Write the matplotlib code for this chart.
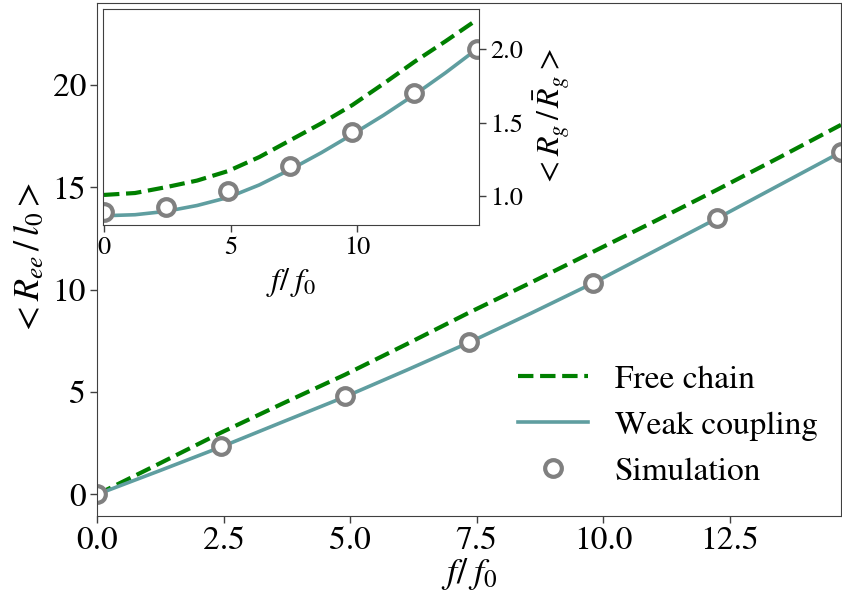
import matplotlib
matplotlib.use("Agg")
import matplotlib.pyplot as plt

plt.rcParams['font.family'] = ['STIXGeneral', 'Liberation Serif', 'DejaVu Serif']
plt.rcParams['mathtext.fontset'] = 'stix'

# Main panel data
f_sim = [0.0, 2.45, 4.9, 7.35, 9.8, 12.25, 14.7]
ree_sim = [0.0, 2.36, 4.80, 7.45, 10.34, 13.51, 16.73]

f_curve = [0.0, 1.225, 2.45, 3.675, 4.9, 6.125, 7.35, 8.575, 9.8, 11.025, 12.25, 13.475, 14.7]
ree_free = [0.0, 1.5, 3.02, 4.45, 5.85, 7.35, 8.88, 10.35, 11.85, 13.35, 14.88, 16.45, 18.05]
ree_weak = [0.0, 1.15, 2.32, 3.55, 4.77, 6.08, 7.42, 8.85, 10.32, 11.9, 13.48, 15.1, 16.72]

# Inset data
rg_sim = [0.893, 0.927, 1.034, 1.205, 1.434, 1.705, 2.005]
rg_free = [1.007, 1.02, 1.06, 1.105, 1.17, 1.265, 1.38, 1.495, 1.62, 1.765, 1.915, 2.055, 2.2]
rg_weak = [0.865, 0.872, 0.895, 0.935, 0.99, 1.075, 1.18, 1.295, 1.42, 1.55, 1.69, 1.84, 2.0]

spine_c = '0.25'
fig = plt.figure(figsize=(8.42, 6.03), dpi=100)
ax = fig.add_axes([0.1152, 0.1443, 0.8836, 0.8507])
ax.plot(f_curve, ree_free, '--', color='green', lw=3, label='Free chain')
ax.plot(f_curve, ree_weak, '-', color='cadetblue', lw=2.6, label='Weak coupling')
ax.plot(f_sim, ree_sim, 'o', mfc='white', mec='grey', mew=3, ms=12, label='Simulation', linestyle='none')
ax.set_xlim(0, 14.7)
ax.set_ylim(-1.05, 24.0)
ax.set_xticks([0.0, 2.5, 5.0, 7.5, 10.0, 12.5])
ax.set_xticklabels(['0.0', '2.5', '5.0', '7.5', '10.0', '12.5'])
ax.set_yticks([0, 5, 10, 15, 20])
ax.tick_params(labelsize=24, length=5, width=1, color=spine_c, pad=3)
for s in ax.spines.values():
    s.set_color(spine_c)
ax.set_xlabel(r'$f/\;f_0$', fontsize=26, labelpad=0)
ax.set_ylabel(r'$<R_{ee}\,/\,l_0>$', fontsize=26, labelpad=4)
leg = ax.legend(loc='lower left', frameon=False, fontsize=24,
                bbox_to_anchor=(505 / 842, (603 - 500) / 603), bbox_transform=fig.transFigure,
                borderaxespad=0, handlelength=2.1, labelspacing=0.47)

# Inset
ins = fig.add_axes([0.122, 0.6264, 0.447, 0.3582])
ins.plot(f_curve, rg_free, '--', color='green', lw=3)
ins.plot(f_curve, rg_weak, '-', color='cadetblue', lw=2.6)
ins.plot(f_sim, rg_sim, 'o', mfc='white', mec='grey', mew=3, ms=12, linestyle='none')
ins.set_xlim(-0.05, 14.8)
ins.set_ylim(0.80, 2.273)
ins.set_xticks([0, 5, 10])
ins.set_yticks([1.0, 1.5, 2.0])
ins.yaxis.tick_right()
ins.yaxis.set_label_position('right')
ins.tick_params(labelsize=19, length=5, width=1, color=spine_c, pad=3)
for s in ins.spines.values():
    s.set_color(spine_c)
ins.set_xlabel(r'$f/\;f_0$', fontsize=23, labelpad=4)
ins.set_ylabel(r'$<R_g\,/\,\bar{R}_g>$', fontsize=23, labelpad=6)

fig.savefig('out.png', dpi=100)
